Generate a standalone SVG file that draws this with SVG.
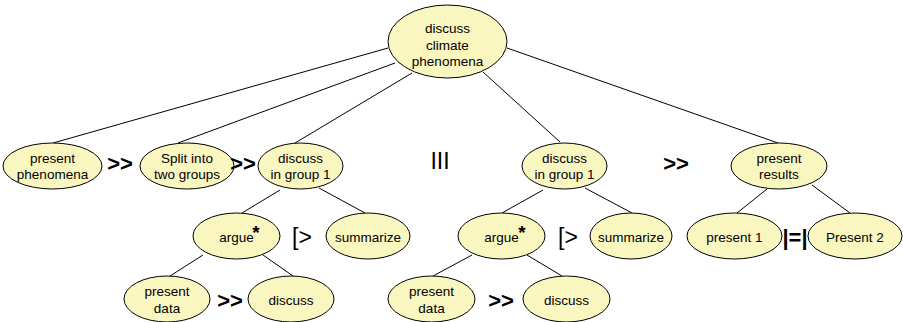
<svg xmlns="http://www.w3.org/2000/svg" width="903" height="322" viewBox="0 0 903 322">
<style>
.n ellipse{fill:#FAF6C0;stroke:#000;stroke-width:1}
.n text{font-family:"Liberation Sans",Arial,sans-serif;font-size:13.5px;text-anchor:middle;fill:#000}
.op{font-family:"Liberation Sans",Arial,sans-serif;font-size:22px;font-weight:bold;text-anchor:middle;fill:#000}
.op2{font-family:"Liberation Sans",Arial,sans-serif;font-size:23px;text-anchor:middle;fill:#000}
.ast{font-family:"Liberation Sans",Arial,sans-serif;font-size:19px;font-weight:bold;text-anchor:middle;fill:#000}
#edges line{stroke:#000;stroke-width:1}
</style>
<rect width="903" height="322" fill="#fff"/>
<g id="edges">
<line x1="388" y1="48" x2="53" y2="143"/>
<line x1="395" y1="63" x2="178" y2="143"/>
<line x1="412" y1="73" x2="295" y2="143"/>
<line x1="483" y1="72" x2="560" y2="142"/>
<line x1="507" y1="48" x2="778" y2="143"/>
<line x1="280" y1="190" x2="242" y2="213"/>
<line x1="319" y1="188" x2="365" y2="213"/>
<line x1="543" y1="190" x2="502" y2="213"/>
<line x1="585" y1="188" x2="632" y2="213"/>
<line x1="767" y1="189" x2="737" y2="213"/>
<line x1="812" y1="185" x2="850" y2="213"/>
<line x1="203" y1="255" x2="170" y2="276"/>
<line x1="263" y1="255" x2="293" y2="276"/>
<line x1="472" y1="255" x2="433" y2="276"/>
<line x1="527" y1="255" x2="562" y2="276"/>
</g>
<g id="root" class="n"><ellipse cx="447.5" cy="41.5" rx="59.5" ry="36.5"/><text x="447.5" y="33">discuss</text><text x="447.5" y="49.5">climate</text><text x="447.5" y="66">phenomena</text></g>
<g id="present-phenomena" class="n"><ellipse cx="52.5" cy="166" rx="49.5" ry="23"/><text x="52.5" y="163">present</text><text x="52.5" y="179">phenomena</text></g>
<g id="split" class="n"><ellipse cx="187" cy="166" rx="47" ry="23"/><text x="187" y="163">Split into</text><text x="187" y="179">two groups</text></g>
<g id="discuss-g1-left" class="n"><ellipse cx="300.5" cy="166" rx="42.5" ry="23"/><text x="300.5" y="163">discuss</text><text x="300.5" y="179">in group 1</text></g>
<g id="discuss-g1-mid" class="n"><ellipse cx="564.5" cy="166" rx="42.5" ry="23"/><text x="564.5" y="163">discuss</text><text x="564.5" y="179">in group 1</text></g>
<g id="present-results" class="n"><ellipse cx="779" cy="166" rx="48" ry="23"/><text x="779" y="163">present</text><text x="779" y="179">results</text></g>
<g id="argue-left" class="n"><ellipse cx="236.5" cy="236" rx="43.5" ry="23"/><text x="236.5" y="242">argue</text></g>
<g id="summarize-left" class="n"><ellipse cx="368" cy="236" rx="42" ry="23"/><text x="368" y="242">summarize</text></g>
<g id="argue-mid" class="n"><ellipse cx="501.5" cy="236" rx="43.5" ry="23"/><text x="501.5" y="242">argue</text></g>
<g id="summarize-mid" class="n"><ellipse cx="631" cy="236" rx="41" ry="23"/><text x="631" y="242">summarize</text></g>
<g id="present1" class="n"><ellipse cx="734.5" cy="236" rx="47.5" ry="23"/><text x="734.5" y="242">present 1</text></g>
<g id="present2" class="n"><ellipse cx="855" cy="236" rx="47" ry="23"/><text x="855" y="242">Present 2</text></g>
<g id="present-data-left" class="n"><ellipse cx="167" cy="299" rx="43" ry="23"/><text x="167" y="296">present</text><text x="167" y="313">data</text></g>
<g id="discuss-left" class="n"><ellipse cx="291" cy="299" rx="43" ry="23"/><text x="291" y="305">discuss</text></g>
<g id="present-data-mid" class="n"><ellipse cx="431.5" cy="299" rx="43.5" ry="23"/><text x="431.5" y="296">present</text><text x="431.5" y="313">data</text></g>
<g id="discuss-mid" class="n"><ellipse cx="566.5" cy="299" rx="43.5" ry="23"/><text x="566.5" y="305">discuss</text></g>
<g id="operators">
<text class="op" x="120" y="171">&gt;&gt;</text>
<text class="op" x="243" y="171">&gt;&gt;</text>
<text class="op2" x="440" y="169">III</text>
<text class="op" x="676" y="171">&gt;&gt;</text>
<text class="op2" x="302" y="245">[&gt;</text>
<text class="op2" x="568" y="245">[&gt;</text>
<text class="op" x="795" y="245">|=|</text>
<text class="op" x="230" y="308">&gt;&gt;</text>
<text class="op" x="501" y="308">&gt;&gt;</text>
<text class="ast" x="256" y="239">*</text>
<text class="ast" x="522" y="239">*</text>
</g>
</svg>
